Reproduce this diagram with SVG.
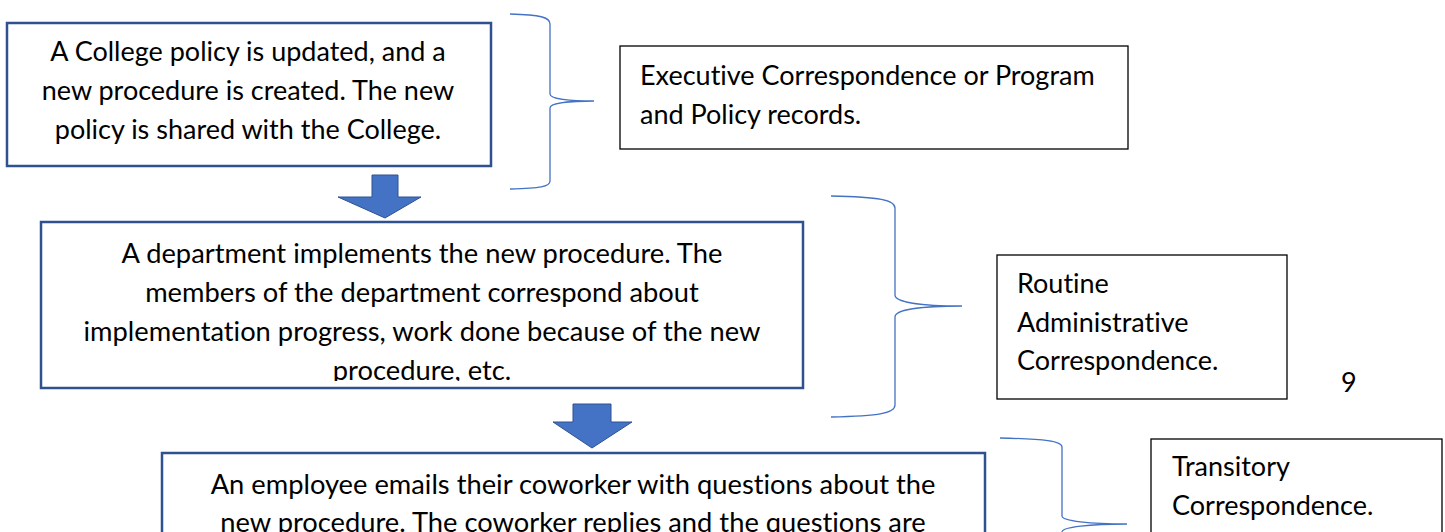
<svg xmlns="http://www.w3.org/2000/svg" width="1445" height="532" viewBox="0 0 1445 532">
  <style>
    .step { fill: #ffffff; stroke: #2F528F; stroke-width: 2.5; }
    .label { fill: #ffffff; stroke: #000000; stroke-width: 1.3; }
    .txt { font-family: Lato, "Liberation Sans", sans-serif; font-size: 27px; fill: #000000; font-variant-ligatures: none; }
    .wide { font-size: 27.3px; }
    .mid { text-anchor: middle; }
    .brace { fill: none; stroke: #4472C4; stroke-width: 1.3; }
    .down { fill: #4472C4; stroke: #2F528F; stroke-width: 1; }
  </style>
  <defs>
    <clipPath id="clip-step2"><rect x="41" y="222" width="762" height="159"/></clipPath>
  </defs>
  <rect width="1445" height="532" fill="#ffffff"/>

  <g id="connectors">
    <!-- block arrows between steps -->
    <path class="down" d="M372 175 H398 V197 H421 L385 218 L338 197 H372 Z"/>
    <path class="down" d="M573 404 H611 V422 H632 L592 448 L553 422 H573 Z"/>
    <!-- right braces grouping each step with its record class -->
    <path class="brace" d="M510 14 C540 15 550 17 550 24 V94 C550 99 570 101 594 101 C570 101 550 103 550 108 V181 C550 187 540 188 510 189"/>
    <path class="brace" d="M831 196 C880 197 895 200 895 208 V295 C895 302 920 306 962 306 C920 306 895 310 895 317 V405 C895 413 880 416 831 417"/>
    <path class="brace" d="M1000 438 C1045 439 1062 441 1062 447 V516 C1062 521 1090 524 1127 524 C1090 524 1062 527 1062 532"/>
  </g>

  <g id="step1">
    <rect class="step" x="7" y="23" width="484" height="143"/>
    <text class="txt mid" x="248" y="61">A College policy is updated, and a</text>
    <text class="txt mid" x="248" y="100">new procedure is created. The new</text>
    <text class="txt mid" x="248" y="139">policy is shared with the College.</text>
  </g>

  <g id="step2">
    <rect class="step" x="41" y="222" width="762" height="166"/>
    <g clip-path="url(#clip-step2)">
      <text class="txt wide mid" x="422" y="263">A department implements the new procedure. The</text>
      <text class="txt wide mid" x="422" y="302">members of the department correspond about</text>
      <text class="txt wide mid" x="422" y="341">implementation progress, work done because of the new</text>
      <text class="txt wide mid" x="422" y="380">procedure, etc.</text>
    </g>
  </g>

  <g id="step3">
    <rect class="step" x="162" y="453" width="823" height="100"/>
    <text class="txt wide mid" x="573" y="494">An employee emails their coworker with questions about the</text>
    <text class="txt wide mid" x="573" y="532">new procedure. The coworker replies and the questions are</text>
  </g>

  <g id="executive">
    <rect class="label" x="620" y="46" width="508" height="103"/>
    <text class="txt" x="640" y="85">Executive Correspondence or Program</text>
    <text class="txt" x="640" y="124">and Policy records.</text>
  </g>

  <g id="routine">
    <rect class="label" x="997" y="255" width="290" height="144"/>
    <text class="txt" x="1017" y="293">Routine</text>
    <text class="txt" x="1017" y="332">Administrative</text>
    <text class="txt" x="1017" y="370">Correspondence.</text>
  </g>

  <g id="transitory">
    <rect class="label" x="1151" y="439" width="291" height="110"/>
    <text class="txt" x="1172" y="476">Transitory</text>
    <text class="txt" x="1172" y="515">Correspondence.</text>
  </g>

  <g id="page-number">
    <text class="txt" x="1341" y="392">9</text>
  </g>
</svg>
